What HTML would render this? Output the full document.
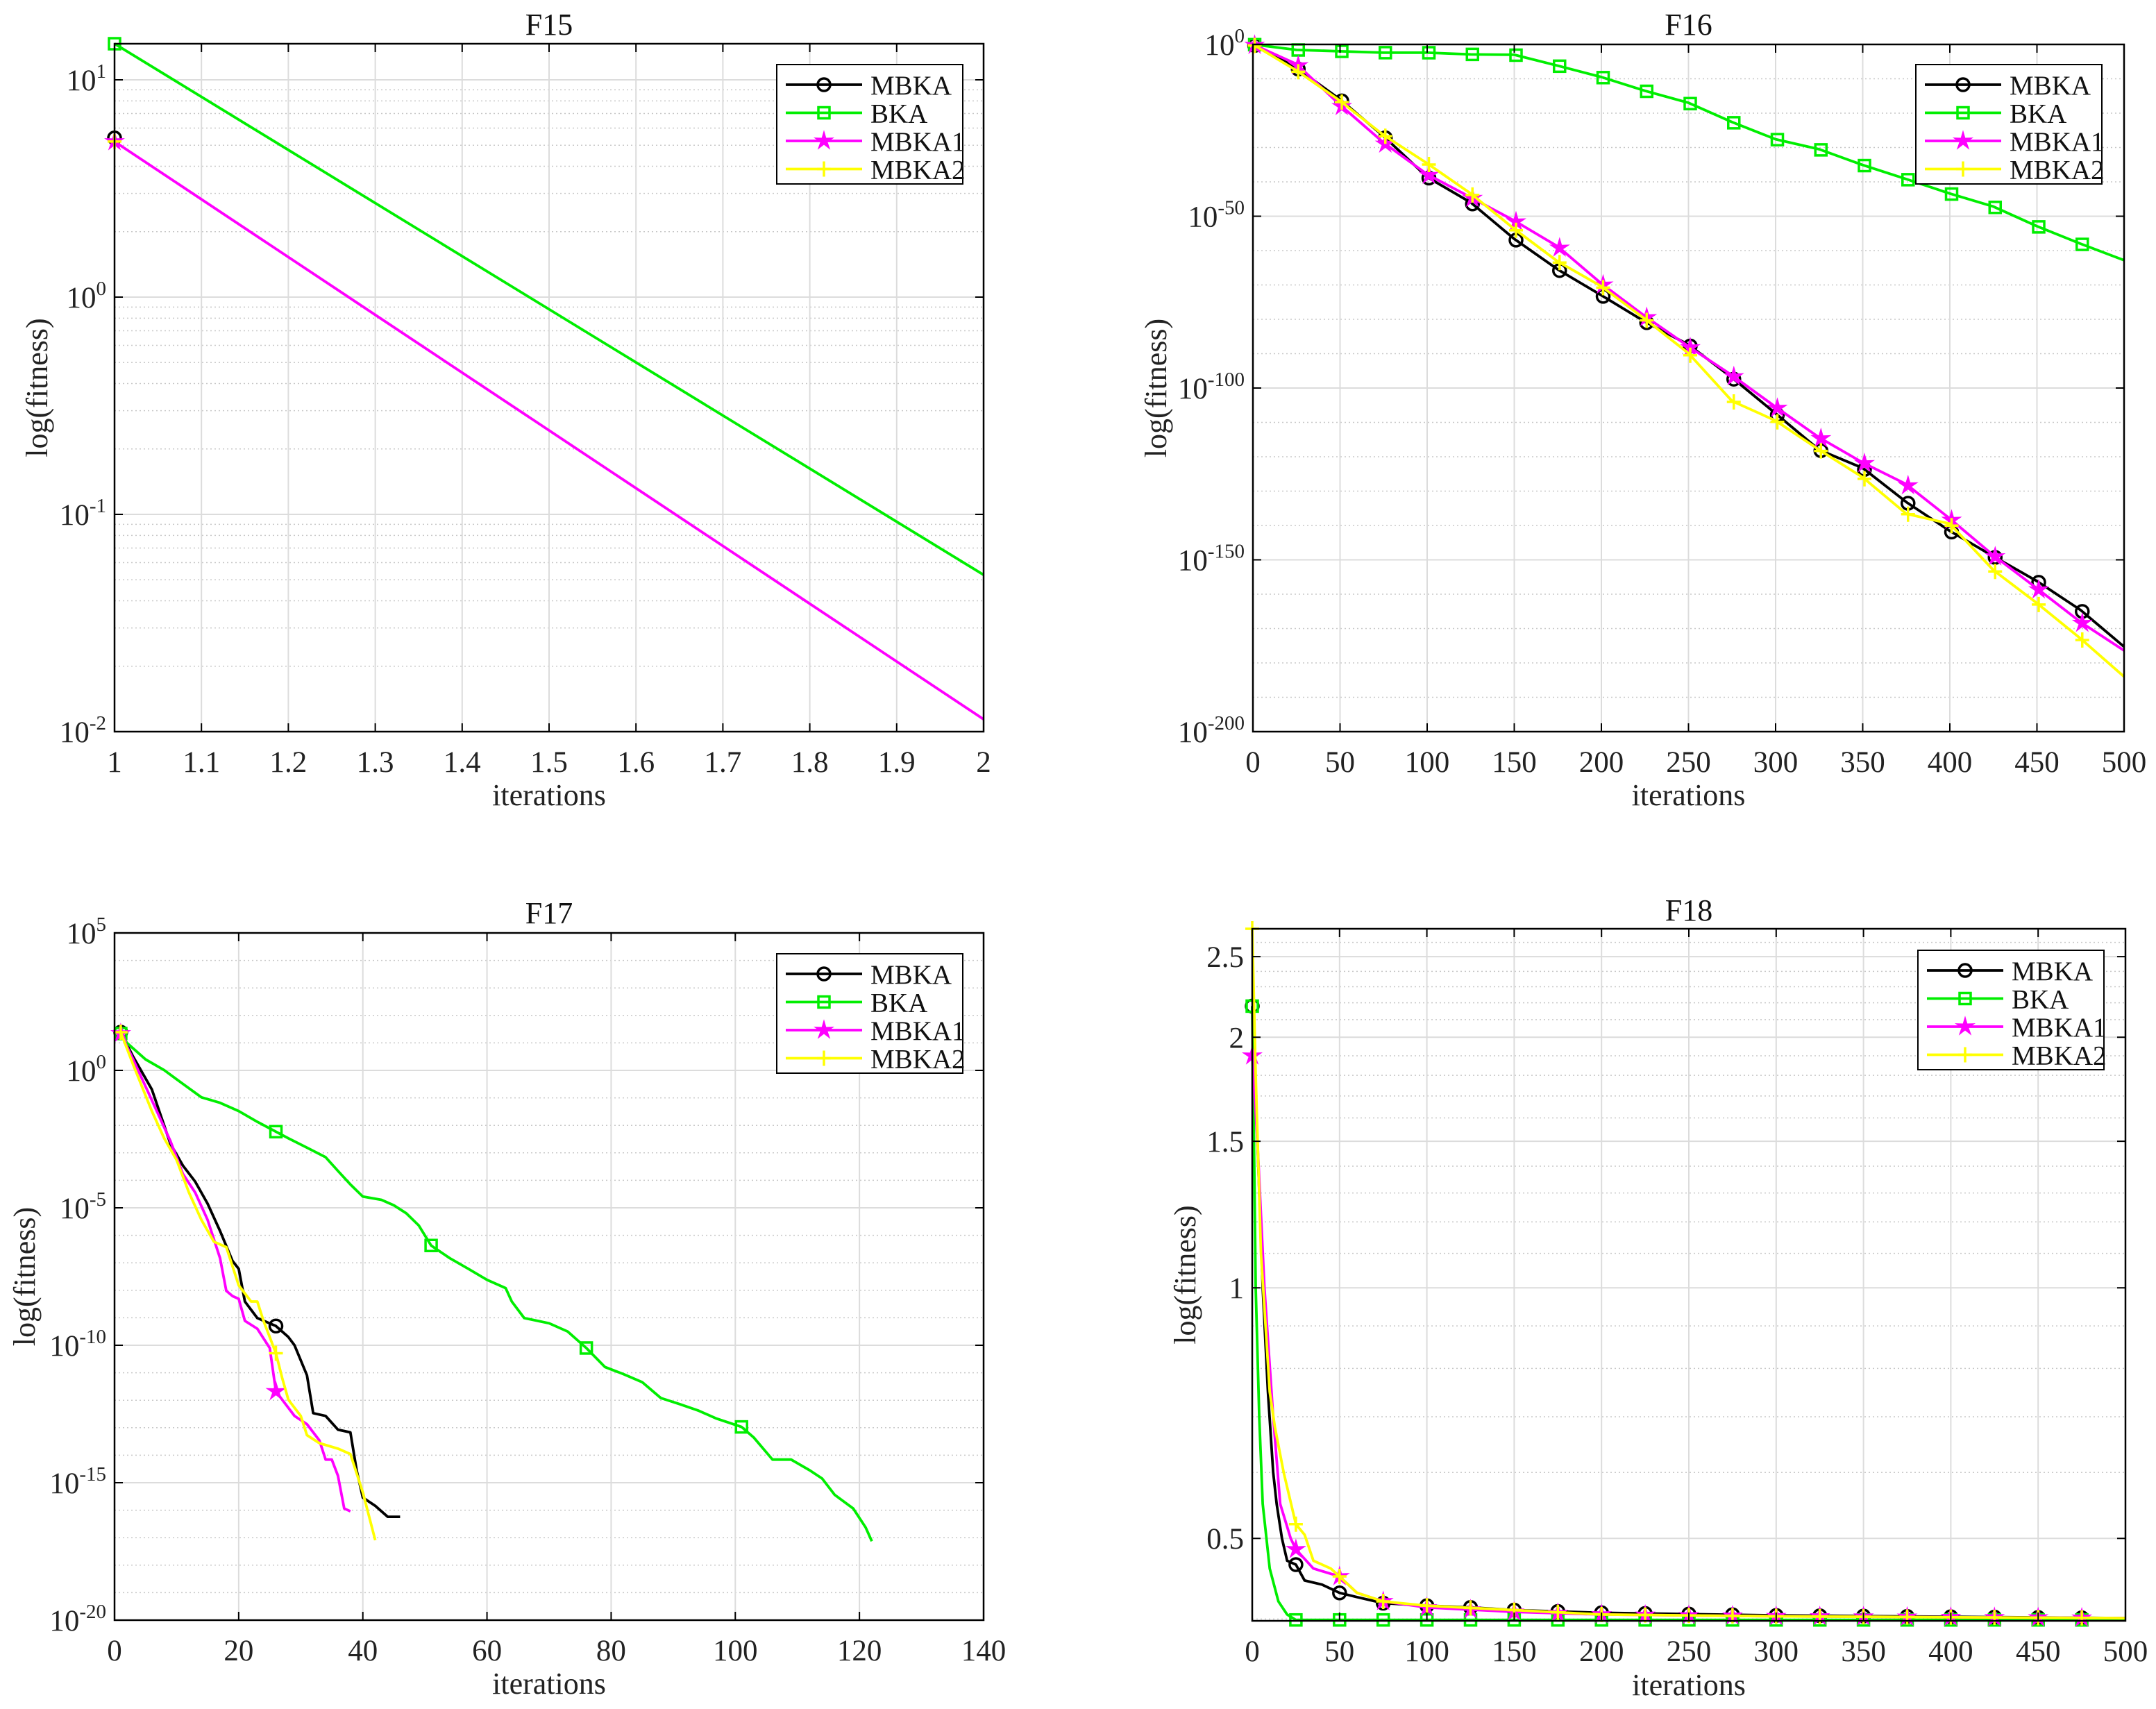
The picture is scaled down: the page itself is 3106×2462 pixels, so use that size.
<!DOCTYPE html>
<html><head><meta charset="utf-8">
<style>
html,body{margin:0;padding:0;background:#fff;}
svg{display:block;}
svg text{font-family:"Liberation Serif",serif;}
</style></head>
<body>
<svg id="fig" width="3106" height="2462" viewBox="0 0 3106 2462" xmlns="http://www.w3.org/2000/svg" font-family="Liberation Serif, serif">
<rect width="3106" height="2462" fill="#fff"/>
</svg>
<script>
// ---------- F15 data ----------
const f15X = [1, 2];
const f15Bka = [14.66, 0.0527];
const f15Mbka = [5.4];
const f15Mbka1 = [5.2, 0.0114];
const f15Mbka2 = [5.2];
// ---------- F16 data (log10 exponents) ----------
const f16X = [0,25,50,75,100,125,150,175,200,225,250,275,300,325,350,375,400,425,450,475,500];
const f16BkaLog = [0,-1.6,-2,-2.4,-2.4,-2.9,-3,-6.2,-9.5,-13.5,-17,-22.6,-27.6,-30.5,-35.1,-39.2,-43.4,-47.2,-52.9,-58,-62.8];
const f16MbkaLog = [0,-6.8,-16,-26.7,-38.6,-46,-56.6,-65.5,-73,-80.7,-87.4,-97,-107.4,-118,-123.3,-133.2,-141.6,-149,-156.2,-164.6,-175.3];
const f16Mbka1Log = [0,-5.7,-17.6,-28.6,-37.8,-44.5,-51.3,-58.8,-69.6,-79.1,-87.9,-96.3,-105.5,-114.4,-121.7,-128,-138,-148.7,-158.3,-168.1,-176.4];
const f16Mbka2Log = [0,-7.6,-16.4,-26.4,-34.6,-43.4,-53.7,-63.2,-70.4,-79.9,-89.9,-103.8,-109.5,-118,-126,-136.6,-139.5,-153,-162.6,-172.9,-184];
// ---------- F17 data (log10 exponents) ----------
const f17BkaX = [1,2,5,8,11,14,17,20,23,26,28,31,34,36,38,40,43,45,47,49,51,54,57,60,63,64,66,70,73,76,79,82,85,88,91,94,97,101,103,106,109,112,114,116,119,121,122];
const f17BkaLog = [1.34,1.0,0.40,0.01,-0.49,-0.98,-1.18,-1.48,-1.87,-2.23,-2.47,-2.81,-3.16,-3.66,-4.15,-4.59,-4.71,-4.91,-5.20,-5.64,-6.37,-6.83,-7.22,-7.62,-7.92,-8.41,-9.01,-9.20,-9.50,-10.10,-10.79,-11.05,-11.34,-11.92,-12.14,-12.37,-12.67,-12.97,-13.36,-14.16,-14.16,-14.55,-14.85,-15.44,-15.94,-16.63,-17.13];
const f17MbkaX = [1,3,6,9,11,13,15,17,19,20,21,23,26,28,29,31,32,34,36,38,39,40,42,44,46];
const f17MbkaLog = [1.39,0.50,-0.69,-2.67,-3.46,-4.05,-4.85,-5.84,-6.93,-7.22,-8.41,-9.01,-9.30,-9.70,-10.00,-11.09,-12.47,-12.57,-13.07,-13.17,-14.55,-15.54,-15.84,-16.24,-16.24];
const f17Mbka1X = [1,3,6,8,9,11,13,15,17,18,19,20,21,23,25,26,27,29,31,33,34,35,36,37,38];
const f17Mbka1Log = [1.34,0.40,-1.08,-2.07,-2.57,-3.76,-4.45,-5.44,-6.83,-8.02,-8.21,-8.31,-9.11,-9.40,-10.10,-11.68,-11.98,-12.57,-12.87,-13.46,-14.16,-14.16,-14.75,-15.94,-16.04];
const f17Mbka2X = [1,3,6,8,10,12,14,16,18,20,22,23,24,26,27,28,30,31,33,36,38,40,42];
const f17Mbka2Log = [1.39,0.21,-1.48,-2.47,-3.26,-4.45,-5.44,-6.23,-6.43,-7.82,-8.41,-8.41,-9.11,-10.29,-11.19,-11.98,-12.57,-13.27,-13.56,-13.76,-13.96,-15.35,-17.09];
// ---------- F18 data ----------
const f18BkaX = [0,1,2,4,6,10,15,20,25,500];
const f18Bka = [2.18,1.5,1.0,0.7,0.55,0.46,0.42,0.405,0.399,0.399];
const f18MbkaX = [0,3,6,9,12,14,17,20,25,30,40,50,60,75,100,125,150,200,300,500];
const f18Mbka = [2.18,1.5,1.0,0.75,0.6,0.55,0.5,0.47,0.465,0.445,0.44,0.43,0.425,0.418,0.415,0.413,0.41,0.407,0.404,0.401];
const f18Mbka1X = [0,3,7,12,16,22,25,35,50,60,75,100,150,200,300,500];
const f18Mbka1 = [1.9,1.5,1.0,0.7,0.55,0.5,0.485,0.46,0.45,0.43,0.42,0.413,0.408,0.405,0.403,0.401];
const f18Mbka2X = [0,2,5,10,13,18,25,30,35,45,50,60,75,100,150,200,300,500];
const f18Mbka2 = [2.7,1.8,1.1,0.75,0.68,0.6,0.52,0.505,0.47,0.46,0.45,0.43,0.42,0.415,0.41,0.405,0.403,0.401];

const NS = "http://www.w3.org/2000/svg";
const svg = document.getElementById('fig');
const FF = '"Liberation Serif", serif';
function mk(tag, attrs, parent){
  const e = document.createElementNS(NS, tag);
  for (const k in attrs) e.setAttribute(k, attrs[k]);
  if (tag==='text') e.setAttribute('font-family', FF);
  (parent||svg).appendChild(e);
  return e;
}
const COL = {MBKA:'#000000', BKA:'#00ee00', MBKA1:'#ff00ff', MBKA2:'#ffff00'};

function marker(g, kind, x, y, color){
  let e;
  if (kind==='o'){ e = mk('circle',{cx:x,cy:y,r:9,fill:'none',stroke:color,'stroke-width':3.5},g); }
  else if (kind==='s'){ e = mk('rect',{x:x-8,y:y-8,width:16,height:16,fill:'none',stroke:color,'stroke-width':3.5},g); }
  else if (kind==='*'){
    let p=[]; for(let i=0;i<10;i++){const r=i%2?5:14; const a=-Math.PI/2+i*Math.PI/5; p.push((x+r*Math.cos(a)).toFixed(1)+','+(y+r*Math.sin(a)).toFixed(1));}
    e = mk('polygon',{points:p.join(' '),fill:color,stroke:color,'stroke-width':1},g);
  } else { e = mk('path',{d:`M${x-10},${y}H${x+10}M${x},${y-11}V${y+11}`,stroke:color,'stroke-width':3.5,fill:'none'},g); }
  
  
}

function plot(cfg){
  const g = mk('g',{});
  
  
  const {L,R,T,B} = cfg;
  const sx = v => L + (v - cfg.xmin)/(cfg.xmax-cfg.xmin)*(R-L);
  const sy = lv => B - (lv - cfg.ylmin)/(cfg.ylmax-cfg.ylmin)*(B-T);
  cfg.minorY.forEach(lv=>{ const y=sy(lv); const l=mk('line',{x1:L,x2:R,y1:y,y2:y,stroke:'#c8c8c8','stroke-width':1.5,'stroke-dasharray':'2,4'},g);   });
  cfg.yTicks.forEach(t=>{ const y=sy(t.lv); const l=mk('line',{x1:L,x2:R,y1:y,y2:y,stroke:'#dcdcdc','stroke-width':2},g);   });
  cfg.xTicks.forEach(t=>{ const x=sx(t); const l=mk('line',{x1:x,x2:x,y1:T,y2:B,stroke:'#dcdcdc','stroke-width':2},g);   });
  cfg.series.forEach(s=>{
    const sg = mk('g',{},g);
    
    
    if (s.x.length>1){
      const d = s.x.map((xv,i)=>(i?'L':'M')+sx(xv).toFixed(1)+','+sy(s.lv[i]).toFixed(1)).join('');
      const p = mk('path',{d:d,fill:'none',stroke:COL[s.label],'stroke-width':3.8,'stroke-linejoin':'round'},sg);
      
      
    }
    const ms = s.markX || [s.x[0]];
    ms.forEach(mx=>{
      if (mx < s.x[0] || mx > s.x[s.x.length-1]) return;
      let i=0; while(i<s.x.length-1 && s.x[i+1]<mx) i++;
      let lv = s.lv[i];
      if (i<s.x.length-1 && s.x[i+1]!==s.x[i]){ const f=(mx-s.x[i])/(s.x[i+1]-s.x[i]); lv = s.lv[i]+f*(s.lv[i+1]-s.lv[i]); }
      marker(sg, s.m, sx(mx), sy(lv), COL[s.label]);
    });
  });
  const box = mk('rect',{x:L,y:T,width:R-L,height:B-T,fill:'none',stroke:'#000','stroke-width':2.5},g);
  
  
  cfg.xTicks.forEach(t=>{
    const x=sx(t);
    mk('path',{d:`M${x},${B}v-12M${x},${T}v12`,stroke:'#000','stroke-width':2},g);
    const tx = mk('text',{x:x,y:B+58,'font-size':43,'text-anchor':'middle',fill:'#222'},g);
    tx.textContent = cfg.xFmt ? cfg.xFmt(t) : String(t);
    
    
  });
  cfg.yTicks.forEach(t=>{
    const y=sy(t.lv);
    mk('path',{d:`M${L},${y}h12M${R},${y}h-12`,stroke:'#000','stroke-width':2},g);
    const tx = mk('text',{x:L-12,y:y+15,'font-size':43,'text-anchor':'end',fill:'#222'},g);
    
    
    if (t.exp!==undefined){
      tx.textContent='10';
      const ts = mk('tspan',{'font-size':29,dy:-18},tx); ts.textContent = t.exp;
    } else tx.textContent = t.txt;
  });
  const tt = mk('text',{x:(L+R)/2,y:cfg.titleY,'font-size':44,'text-anchor':'middle',fill:'#111'},g);
  tt.textContent = cfg.title;
  
  
  const xl = mk('text',{x:(L+R)/2,y:cfg.xlabY,'font-size':44,'text-anchor':'middle',fill:'#222'},g);
  xl.textContent='iterations';
  
  
  const yl = mk('text',{x:0,y:0,'font-size':44,'text-anchor':'middle',fill:'#222',transform:`translate(${cfg.ylabX},${(T+B)/2}) rotate(-90)`},g);
  yl.textContent='log(fitness)';
  
  
  const lg = mk('g',{},g);
  
  
  const [lx,ly,lw,lh] = cfg.legend;
  mk('rect',{x:lx,y:ly,width:lw,height:lh,fill:'#fff',stroke:'#000','stroke-width':2},lg);
  [['MBKA','o'],['BKA','s'],['MBKA1','*'],['MBKA2','+']].forEach((e,i)=>{
    const y = ly+29+i*40.5;
    const en = mk('g',{},lg);
    
    
    mk('line',{x1:lx+13,x2:lx+123,y1:y,y2:y,stroke:COL[e[0]],'stroke-width':3.8},en);
    marker(en, e[1], lx+68, y, COL[e[0]]);
    const t = mk('text',{x:lx+135,y:y+14,'font-size':39,fill:'#111'},en);
    t.textContent = e[0];
  });
}
const L10 = Math.log10;
function range(a,b,s){const r=[];for(let v=a;v<=b+1e-9;v+=s)r.push(+v.toFixed(6));return r;}
function minorsLog(a,b){const r=[];for(let d=a;d<b;d++)for(let k=2;k<=9;k++){const v=d+L10(k); if(v<b) r.push(v);}return r;}
const mk25 = range(1,476,25);

plot({name:'chart-f15',title:'F15',L:165,R:1417,T:63,B:1054,xmin:1,xmax:2,ylmin:-2,ylmax:L10(14.66),
  titleY:50,xlabY:1160,ylabX:68,legend:[1119,93,268,172],
  xTicks:range(1,2,0.1),xFmt:t=>t===1?'1':t===2?'2':t.toFixed(1),
  yTicks:[{lv:-2,exp:'-2'},{lv:-1,exp:'-1'},{lv:0,exp:'0'},{lv:1,exp:'1'}],
  minorY:minorsLog(-2,2).filter(v=>v<L10(14.66)),
  series:[
    {label:'MBKA',m:'o',x:[1],lv:f15Mbka.map(L10)},
    {label:'BKA',m:'s',x:f15X,lv:f15Bka.map(L10)},
    {label:'MBKA1',m:'*',x:f15X,lv:f15Mbka1.map(L10)},
    {label:'MBKA2',m:'+',x:[1],lv:f15Mbka2.map(L10)}]});
plot({name:'chart-f16',title:'F16',L:1805,R:3060,T:64,B:1054,xmin:0,xmax:500,ylmin:-200,ylmax:0,
  titleY:50,xlabY:1160,ylabX:1680,legend:[2760,93,268,172],
  xTicks:range(0,500,50),
  yTicks:[0,-50,-100,-150,-200].map(v=>({lv:v,exp:String(v)})),
  minorY:range(-190,-10,10).filter(v=>v%50!==0),
  series:[
    {label:'MBKA',m:'o',x:f16X,lv:f16MbkaLog,markX:mk25},
    {label:'BKA',m:'s',x:f16X,lv:f16BkaLog,markX:mk25},
    {label:'MBKA1',m:'*',x:f16X,lv:f16Mbka1Log,markX:mk25},
    {label:'MBKA2',m:'+',x:f16X,lv:f16Mbka2Log,markX:mk25}]});
plot({name:'chart-f17',title:'F17',L:165,R:1417,T:1344,B:2334,xmin:0,xmax:140,ylmin:-20,ylmax:5,
  titleY:1330,xlabY:2440,ylabX:50,legend:[1119,1374,268,172],
  xTicks:range(0,140,20),
  yTicks:[5,0,-5,-10,-15,-20].map(v=>({lv:v,exp:String(v)})),
  minorY:range(-19,4,1).filter(v=>v%5!==0),
  series:[
    {label:'MBKA',m:'o',x:f17MbkaX,lv:f17MbkaLog,markX:[1,26]},
    {label:'BKA',m:'s',x:f17BkaX,lv:f17BkaLog,markX:[1,26,51,76,101]},
    {label:'MBKA1',m:'*',x:f17Mbka1X,lv:f17Mbka1Log,markX:[1,26]},
    {label:'MBKA2',m:'+',x:f17Mbka2X,lv:f17Mbka2Log,markX:[1,26]}]});
const f18Min=0.398, f18Max=2.70;
plot({name:'chart-f18',title:'F18',L:1804,R:3062,T:1338,B:2335,xmin:0,xmax:500,ylmin:L10(f18Min),ylmax:L10(f18Max),
  titleY:1326,xlabY:2442,ylabX:1722,legend:[2763,1369,268,172],
  xTicks:range(0,500,50),
  yTicks:[0.5,1,1.5,2,2.5].map(v=>({lv:L10(v),txt:String(v)})),
  minorY:range(0.4,2.7,0.1).filter(v=>Math.abs(v*2-Math.round(v*2))>1e-6).map(L10),
  series:[
    {label:'MBKA',m:'o',x:f18MbkaX,lv:f18Mbka.map(L10),markX:range(0,475,25)},
    {label:'BKA',m:'s',x:f18BkaX,lv:f18Bka.map(L10),markX:range(0,475,25)},
    {label:'MBKA1',m:'*',x:f18Mbka1X,lv:f18Mbka1.map(L10),markX:range(0,475,25)},
    {label:'MBKA2',m:'+',x:f18Mbka2X,lv:f18Mbka2.map(L10),markX:range(0,475,25)}]});
</script>
</body></html>
